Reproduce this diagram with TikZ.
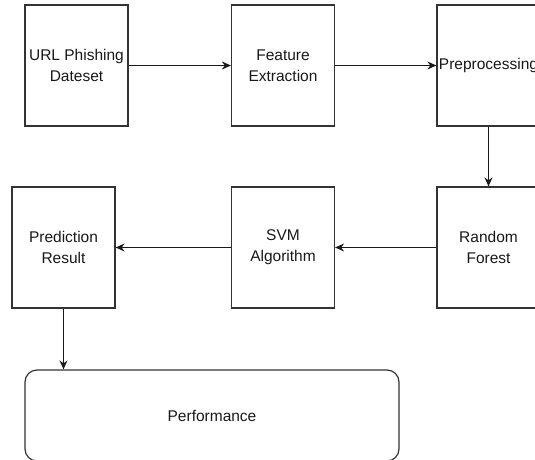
\documentclass[tikz,border=0pt]{standalone}
\usepackage{fontspec}
\setmainfont{Liberation Sans}
\usetikzlibrary{arrows.meta}

\begin{document}
\begin{tikzpicture}[x=1pt, y=-1pt, >={Stealth[length=9pt,width=8pt]},
  stage/.style={draw=black!80, line width=1.2pt, fill=white, minimum width=103pt,
                minimum height=121pt, align=center, inner sep=0pt, text=black!90,
                font=\fontsize{15.5}{21}\selectfont},
  flow/.style={->, draw=black!90, line width=1.2pt}]
  \useasboundingbox (0,0) rectangle (535,460);
  \clip (0,0) rectangle (535,460);
  % top row
  \node[stage] (data) at (76.5,65.5)  {URL Phishing\\Dateset};
  \node[stage] (feat) at (283,65.5)   {Feature\\Extraction};
  \node[stage] (prep) at (488.5,65.5) {Preprocessing};
  % bottom row
  \node[stage] (rf)   at (488.5,247.5) {Random\\Forest};
  \node[stage] (svm)  at (283,247.5)   {SVM\\Algorithm};
  \node[stage] (pred) at (63.5,247.5)  {Prediction\\Result};
  \node[stage, rounded corners=12pt, minimum width=374pt, minimum height=91pt]
    (perf) at (212,415.5) {Performance};
  \draw[flow] (data) -- (feat);
  \draw[flow] (feat) -- (prep);
  \draw[flow] (prep) -- (rf);
  \draw[flow] (rf) -- (svm);
  \draw[flow] (svm) -- (pred);
  \draw[flow] (pred.south) -- (pred.south |- perf.north);
\end{tikzpicture}
\end{document}
